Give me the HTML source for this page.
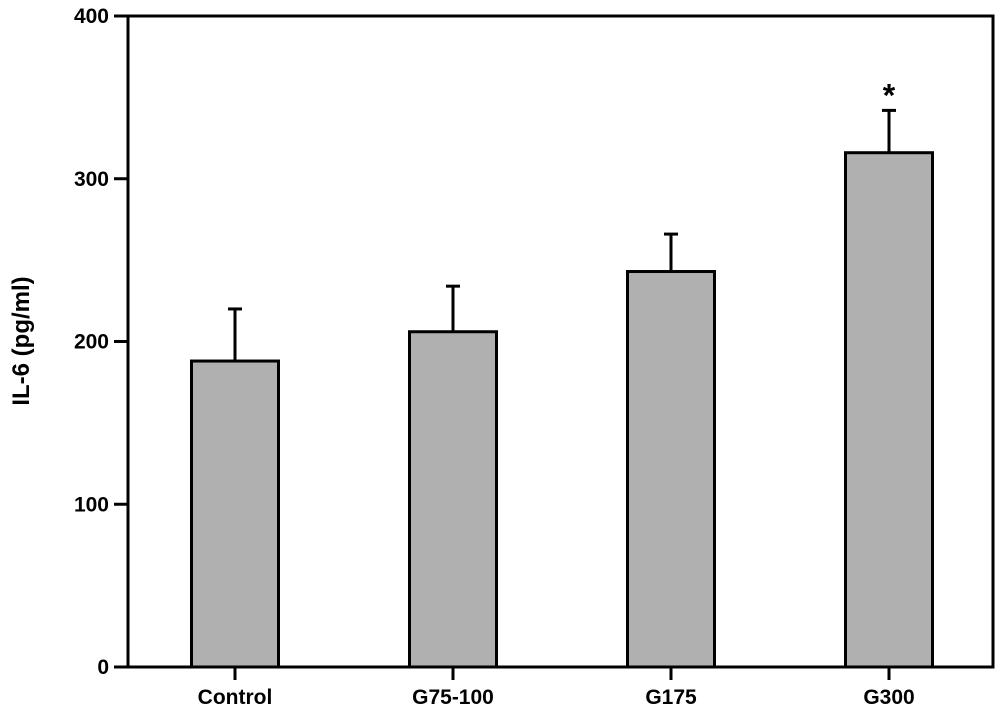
<!DOCTYPE html>
<html><head><meta charset="utf-8"><style>
html,body{margin:0;padding:0;background:#fff;}
svg{display:block;font-family:"Liberation Sans",Arial,sans-serif;font-weight:bold;}
</style></head><body>
<svg id="chart" width="1000" height="711" viewBox="0 0 1000 711"></svg>
<script>
const categories = ["Control","G75-100","G175","G300"];
const values = [188, 206, 243, 316];
const errors = [32, 28, 23, 26];
const sigMarks = ["","","","*"];
const yTicks = [0,100,200,300,400];

const svg = document.getElementById('chart');
const NS = 'http://www.w3.org/2000/svg';
const L=128, R=993, T=16, B=667, yMax=400;
const y = v => B - v/yMax*(B-T);
const step = 218, x0 = 235;
const x = i => x0 + i*step;
const bw = 87;
function mk(tag, attrs, parent){const e=document.createElementNS(NS,tag);for(const k in attrs)e.setAttribute(k,attrs[k]);(parent||svg).appendChild(e);return e;}

const frame = mk('rect',{x:L,y:T,width:R-L,height:B-T,fill:'none',stroke:'#000','stroke-width':3});



yTicks.forEach(t=>{
  const ln = mk('line',{x1:L-14,x2:L,y1:y(t),y2:y(t),stroke:'#000','stroke-width':3});
  
  
  const tx = mk('text',{x:L-19,y:y(t)+7,'text-anchor':'end','font-size':21});
  tx.textContent = t;
  
  
});

categories.forEach((c,i)=>{
  const cx = x(i);
  const eb = mk('line',{x1:cx,x2:cx,y1:y(values[i]),y2:y(values[i]+errors[i]),stroke:'#000','stroke-width':3});
  
  
  const cap = mk('line',{x1:cx-7,x2:cx+7,y1:y(values[i]+errors[i]),y2:y(values[i]+errors[i]),stroke:'#000','stroke-width':3});
  
  
  const b = mk('rect',{x:cx-bw/2,y:y(values[i]),width:bw,height:B-y(values[i]),fill:'#b0b0b0',stroke:'#000','stroke-width':3});
  
  
  const tk = mk('line',{x1:cx,x2:cx,y1:B,y2:B+13,stroke:'#000','stroke-width':3});
  
  
  const lb = mk('text',{x:cx,y:704,'text-anchor':'middle','font-size':21});
  lb.textContent = c;
  
  
  if(sigMarks[i]){
    const s = mk('text',{x:cx,y:y(values[i]+errors[i])-4,'text-anchor':'middle','font-size':32});
    s.textContent = sigMarks[i];
    
    
  }
});

const yt = mk('text',{x:0,y:0,'text-anchor':'middle','font-size':24,transform:'translate(29,341) rotate(-90)'});
yt.textContent = 'IL-6 (pg/ml)';


</script>
</body></html>
